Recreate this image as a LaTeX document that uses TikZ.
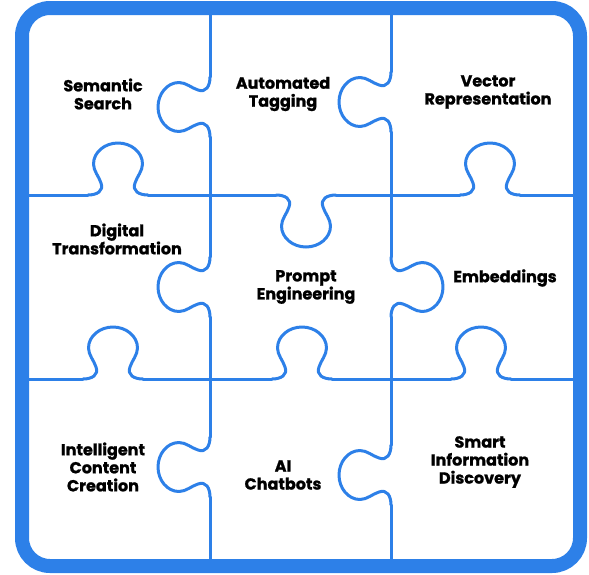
\documentclass[tikz,border=0pt]{standalone}
\usepackage{fontspec}
\setmainfont{Poppins}[BoldFeatures={FakeBold=1.2}]
\definecolor{puzzleblue}{HTML}{2D80E8}
\tikzset{
  piece edge/.style={draw=puzzleblue, line width=3pt, line cap=round, line join=round},
  puzzle frame/.style={draw=puzzleblue, line width=14pt, rounded corners=28pt},
  piece text/.style={font=\bfseries\fontsize{16}{18}\selectfont, align=center, text=black}
}
% one tab of a piece, centred on its edge at (#1,#2), turned by #3
\newcommand{\knob}[3]{%
  \draw[piece edge, shift={(#1,#2)}, rotate=#3]
    (-30,0) .. controls (-21,0) and (-14,4) .. (-17,12)
    .. controls (-19,18.5) and (-24.5,24) .. (-24.5,31)
    .. controls (-24.5,43) and (-13,52) .. (0,52)
    .. controls (13,52) and (24.5,43) .. (24.5,31)
    .. controls (24.5,24) and (19,18.5) .. (17,12)
    .. controls (14,4) and (21,0) .. (30,0);}
\begin{document}
\begin{tikzpicture}[x=1pt,y=-1pt]
\useasboundingbox (0,0) rectangle (589,574);
\fill[white] (0,0) rectangle (589,574);

% straight parts of the cuts
\draw[piece edge] (210,8) -- (210,77) (210,137) -- (210,257)
  (210,317) -- (210,437) (210,497) -- (210,566);
\draw[piece edge] (391,8) -- (391,72) (391,132) -- (391,257)
  (391,317) -- (391,445) (391,505) -- (391,566);
\draw[piece edge] (22,195) -- (88,195) (148,195) -- (276,195)
  (336,195) -- (460,195) (520,195) -- (580,195);
\draw[piece edge] (22,379) -- (83,379) (143,379) -- (272,379)
  (332,379) -- (451,379) (511,379) -- (580,379);

% tabs
\knob{210}{107}{-90}
\knob{210}{287}{-90}
\knob{210}{467}{-90}
\knob{391}{102}{-90}
\knob{391}{287}{90}
\knob{391}{475}{-90}
\knob{118}{195}{180}
\knob{306}{195}{0}
\knob{490}{195}{180}
\knob{113}{379}{180}
\knob{302}{379}{180}
\knob{481}{379}{180}

% frame
\draw[puzzle frame] (22,8) rectangle (580,566);

% texts
\node[piece text] (semantic) at (103,94) {Semantic\\Search};
\node[piece text] (tagging) at (283,94) {Automated\\Tagging};
\node[piece text] (vector) at (488,92) {Vector\\Representation};
\node[piece text] (digital) at (117,239) {Digital\\Transformation};
\node[piece text] (prompt) at (306,287) {Prompt\\Engineering};
\node[piece text] (embed) at (505,278) {Embeddings};
\node[piece text] (content) at (103,467) {Intelligent\\Content\\Creation};
\node[piece text] (chatbots) at (283,475) {AI\\Chatbots};
\node[piece text] (discovery) at (480,462) {Smart\\Information\\Discovery};
\end{tikzpicture}
\end{document}
